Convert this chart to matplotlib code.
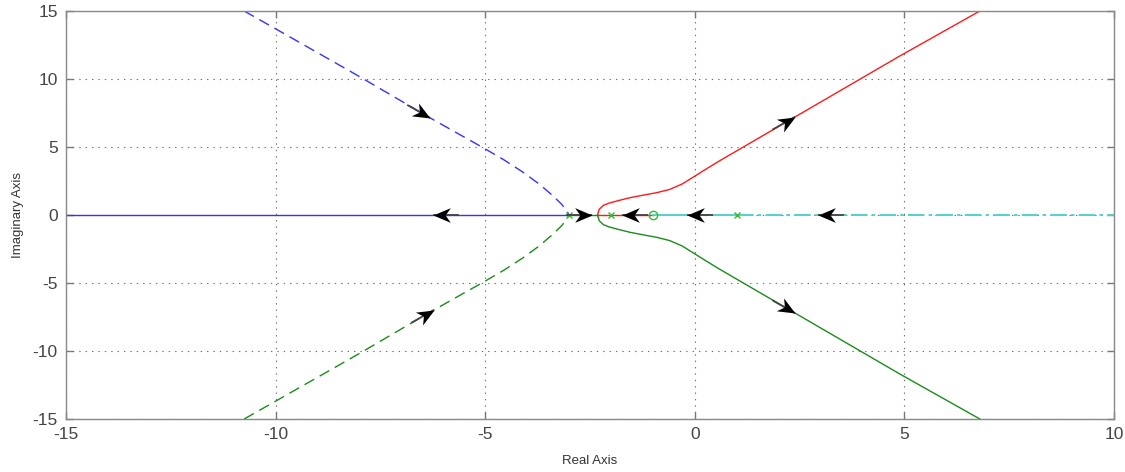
import numpy as np
import matplotlib
matplotlib.use("Agg")
import matplotlib.pyplot as plt
from matplotlib.path import Path
from matplotlib.markers import MarkerStyle
from matplotlib.transforms import Affine2D

plt.rcParams["font.family"] = ["Liberation Sans", "DejaVu Sans"]
plt.rcParams["lines.scale_dashes"] = False
plt.rcParams["axes.unicode_minus"] = False

# ---- root locus branches (real, imaginary) ----
blue_real_x = [-15.0, -3.0]
blue_real_y = [0.0, 0.0]

blue_dash_x = [-10.75, -10.0, -8.0, -6.32, -5.6, -5.05, -4.55, -4.1, -3.7,
               -3.4, -3.18, -3.05, -3.0]
blue_dash_y = [15.0, 13.69, 10.18, 7.15, 5.9, 4.95, 4.05, 3.15, 2.25,
               1.45, 0.8, 0.3, 0.0]

green_dash_x = blue_dash_x
green_dash_y = [-v for v in blue_dash_y]

green_real_x = [-3.0, -2.32]
green_real_y = [0.0, 0.0]

red_real_x = [-2.32, -1.0]
red_real_y = [0.0, 0.0]

red_up_x = [-2.32, -2.31, -2.28, -2.18, -2.06, -1.86, -1.55, -1.23, -0.91, -0.6,
            -0.3, -0.04, 0.28, 0.60, 4.89, 6.80]
red_up_y = [0.0, 0.12, 0.42, 0.71, 0.86, 1.03, 1.27, 1.46, 1.64, 1.88,
            2.28, 2.78, 3.40, 4.00, 11.69, 15.0]

green_low_x = red_up_x
green_low_y = [-v for v in red_up_y]

cyan_solid_x = [-1.0, 1.0]
cyan_solid_y = [0.0, 0.0]
cyan_dash_x = [1.0, 10.0]
cyan_dash_y = [0.0, 0.0]

# open-loop poles and zeros
pole_x = [-3.0, -2.0, 1.0]
pole_y = [0.0, 0.0, 0.0]
zero_x = [-1.0]
zero_y = [0.0]

# direction arrows: tip position and a direction vector in data units
arrow_x = [-6.25, -2.45, -1.74, -0.19, 2.94, 2.39, 2.39, -6.32, -6.22]
arrow_y = [0.0, 0.0, 0.0, 0.0, 0.0, 7.22, -7.22, 7.15, -6.98]
arrow_dx = [-1.0, 1.0, -1.0, -1.0, -1.0, 1.0, 1.0, 1.0, 1.0]
arrow_dy = [0.0, 0.0, 0.0, 0.0, 0.0, 1.76, -1.76, -1.75, 1.75]

x_ticks = [-15, -10, -5, 0, 5, 10]
y_ticks = [-15, -10, -5, 0, 5, 10, 15]

BLUE = "#3333ff"
RED = "#ff1a1a"
GREEN = "#1a8c1a"
CYAN = "#55d0cc"
MARK_GREEN = "#33bb33"

fig = plt.figure(figsize=(11.25, 4.72), dpi=100)
ax = fig.add_axes([66 / 1125, 1 - 419 / 472, (1114 - 66) / 1125, (419 - 11) / 472])

lw = 1.0
ax.plot(blue_real_x, blue_real_y, color=BLUE, lw=lw)
ax.plot(blue_dash_x, blue_dash_y, color=BLUE, lw=lw, dashes=(8, 4.5))
ax.plot(green_dash_x, green_dash_y, color=GREEN, lw=lw, dashes=(8, 4.5))
ax.plot(green_real_x, green_real_y, color=GREEN, lw=lw)
ax.plot(red_real_x, red_real_y, color=RED, lw=lw)
ax.plot(red_up_x, red_up_y, color=RED, lw=lw)
ax.plot(green_low_x, green_low_y, color=GREEN, lw=lw)
ax.plot(cyan_solid_x, cyan_solid_y, color=CYAN, lw=lw + 0.4)
ax.plot(cyan_dash_x, cyan_dash_y, color=CYAN, lw=lw + 0.4, dashes=(12, 3, 2.5, 3))

ax.plot(pole_x, pole_y, ls="none", marker="x", ms=5, mew=1.0, color=MARK_GREEN, zorder=4)
ax.plot(zero_x, zero_y, ls="none", marker="o", ms=6, mew=1.0, mfc="none", mec=MARK_GREEN, zorder=4)

ax.set_xlim(-15, 10)
ax.set_ylim(-15, 15)
ax.set_xticks(x_ticks)
ax.set_yticks(y_ticks)
ax.grid(True, color="#707070", lw=0.8, linestyle=(0, (1, 3.6)))
ax.set_axisbelow(True)
ax.tick_params(direction="in", length=5, width=1.0, color="#777777",
               top=True, right=True, labelsize=12.5, labelcolor="#444444", pad=6)
for s in ax.spines.values():
    s.set_color("#888888")
    s.set_linewidth(1.0)

fig.text(590 / 1125, 1 - 461 / 472, "Real Axis", fontsize=9.5, color="#333333",
         ha="center", va="center")
fig.text(18 / 1125, 1 - 215 / 472, "Imaginary Axis", fontsize=9.5, color="#333333",
         ha="center", va="center", rotation=90)

# arrowheads drawn as rotated stealth-shaped markers with a short dark shaft
fig.canvas.draw()
head = Path([(0, 0), (-2.0, 0.85), (-1.4, 0), (-2.0, -0.85), (0, 0)],
            [Path.MOVETO, Path.LINETO, Path.LINETO, Path.LINETO, Path.CLOSEPOLY])
to_disp = ax.transData
to_data = ax.transData.inverted()
for x, y, dx, dy in zip(arrow_x, arrow_y, arrow_dx, arrow_dy):
    p0 = to_disp.transform((x, y))
    p1 = to_disp.transform((x + dx * 0.1, y + dy * 0.1))
    v = p1 - p0
    v = v / np.hypot(*v)
    ang = np.degrees(np.arctan2(v[1], v[0]))
    tail = to_data.transform(p0 - v * 26)
    ax.plot([tail[0], x], [tail[1], y], color="#444444", lw=1.3, zorder=5,
            solid_capstyle="butt")
    m = MarkerStyle(head, transform=Affine2D().rotate_deg(ang))
    ax.plot([x], [y], ls="none", marker=m, ms=25, color="black", mew=0, zorder=6)

fig.savefig("out.png", dpi=100)
